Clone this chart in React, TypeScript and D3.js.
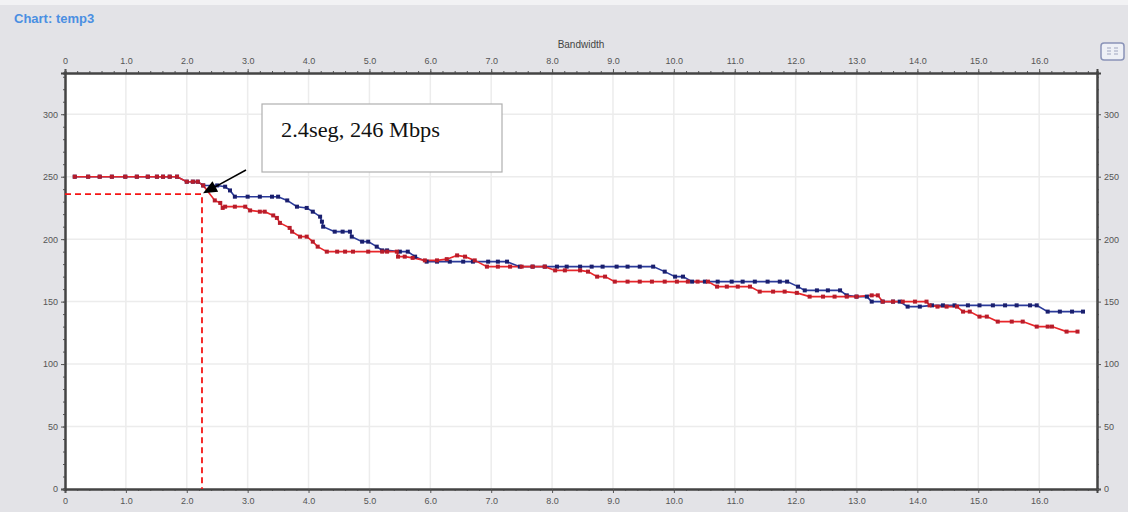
import React, { useRef, useEffect } from "react";
import * as d3 from "d3";

// Blue series (bandwidth axis value, Mbps)
const blueX = [
  0.16, 0.38, 0.57, 0.77, 0.99, 1.18, 1.36, 1.51, 1.61, 1.72, 1.84, 2.0, 2.1, 2.18, 2.27, 2.5, 2.63, 2.71,
  2.79, 3.0, 3.2, 3.4, 3.5, 3.65, 3.81, 3.97, 4.07, 4.19, 4.22, 4.24, 4.43, 4.56, 4.68, 4.71, 4.88, 4.98,
  5.12, 5.21, 5.29, 5.5, 5.63, 5.75, 5.94, 6.11, 6.32, 6.54, 6.7, 6.95, 7.11, 7.26, 7.47, 7.68, 7.88, 8.08,
  8.24, 8.46, 8.65, 8.83, 9.06, 9.24, 9.44, 9.66, 9.85, 10.02, 10.15, 10.3, 10.51, 10.72, 10.95, 11.13,
  11.33, 11.54, 11.74, 11.86, 12.04, 12.15, 12.35, 12.53, 12.73, 12.84, 13.0, 13.17, 13.25, 13.43, 13.6,
  13.71, 13.84, 14.04, 14.24, 14.42, 14.61, 14.83, 15.02, 15.24, 15.44, 15.63, 15.85, 15.96, 16.14, 16.34,
  16.54, 16.72,
];
const blueY = [
  250, 250, 250, 250, 250, 250, 250, 250, 250, 250, 250, 246, 246, 246, 243, 243, 242, 239,
  234, 234, 234, 234, 234, 231, 226, 225, 222, 218, 214, 210, 206, 206, 206, 202, 198, 198,
  194, 191, 191, 190, 190, 186, 182, 182, 182, 182, 182, 182, 182, 182, 178, 178, 178, 178,
  178, 178, 178, 178, 178, 178, 178, 178, 174, 170, 170, 166, 166, 166, 166, 166,
  166, 166, 166, 166, 162, 159, 159, 159, 159, 155, 154, 154, 150, 150, 150,
  150, 146, 146, 147, 147, 147, 147, 147, 147, 147, 147, 147, 147, 142, 142,
  142, 142,
];

// Red series
const redX = [
  0.16, 0.38, 0.57, 0.77, 0.99, 1.18, 1.36, 1.51, 1.61, 1.72, 1.84, 2.0, 2.1, 2.18, 2.27, 2.46, 2.55, 2.59,
  2.63, 2.79, 2.96, 3.04, 3.2, 3.28, 3.42, 3.48, 3.53, 3.69, 3.73, 3.86, 3.97, 4.07, 4.15, 4.3, 4.47, 4.6,
  4.73, 4.98, 5.21, 5.29, 5.45, 5.47, 5.58, 5.71, 5.91, 6.11, 6.27, 6.44, 6.57, 6.73, 6.93, 7.11, 7.31, 7.5,
  7.68, 7.88, 8.05, 8.21, 8.46, 8.59, 8.74, 8.87, 9.03, 9.24, 9.44, 9.64, 9.85, 10.05, 10.23, 10.39, 10.56,
  10.71, 10.87, 11.05, 11.25, 11.41, 11.63, 11.82, 12.02, 12.23, 12.45, 12.64, 12.84, 13.0, 13.25, 13.35,
  13.43, 13.6, 13.76, 13.96, 14.15, 14.2, 14.33, 14.48, 14.65, 14.75, 14.86, 15.02, 15.14, 15.32, 15.55,
  15.73, 15.96, 16.14, 16.21, 16.45, 16.63,
];
const redY = [
  250, 250, 250, 250, 250, 250, 250, 250, 250, 250, 250, 246, 246, 246, 243, 231, 229, 225,
  226, 226, 226, 223, 222, 222, 219, 217, 213, 209, 206, 202, 202, 198, 194, 190, 190, 190,
  190, 190, 190, 190, 190, 186, 186, 185, 183, 183, 184, 187, 186, 183, 178, 178, 178, 178,
  178, 178, 175, 175, 175, 174, 170, 170, 166, 166, 166, 166, 166, 166, 166, 166, 166,
  162, 162, 162, 162, 158, 158, 158, 157, 154, 154, 154, 154, 154, 155, 155,
  150, 150, 150, 150, 150, 147, 146, 146, 146, 142, 142, 138, 138, 134, 134,
  134, 130, 130, 130, 126, 126,
];

const xMajor = [0, 1, 2, 3, 4, 5, 6, 7, 8, 9, 10, 11, 12, 13, 14, 15, 16];
const xLabels = ["0", "1.0", "2.0", "3.0", "4.0", "5.0", "6.0", "7.0", "8.0", "9.0", "10.0", "11.0", "12.0", "13.0", "14.0", "15.0", "16.0"];
const yMajor = [0, 50, 100, 150, 200, 250, 300];

// marked point and its note
const markX = 2.25;
const markY = 236;
const noteText = "2.4seg, 246 Mbps";

export default function App() {
  const svgRef = useRef(null);

  useEffect(() => {
    const width = 1128;
    const height = 512;
    const margin = { top: 73, right: 31, bottom: 23, left: 65 };

    const svg = d3.select(svgRef.current).attr("width", width).attr("height", height);
    svg.selectAll("*").remove();

    // panel background
    svg.append("rect").attr("width", width).attr("height", height).attr("fill", "#e3e3e7");
    svg.append("rect").attr("width", width).attr("height", 5).attr("fill", "#f2f2f4");

    svg.append("text")
      .attr("x", 14).attr("y", 23)
      .attr("font-family", "Liberation Sans, Arial, sans-serif")
      .attr("font-size", 13).attr("font-weight", "bold")
      .attr("fill", "#4a8fe2")
      .text("Chart: temp3");

    const x = d3.scaleLinear().domain([0, 16.95]).range([margin.left, width - margin.right]);
    const y = d3.scaleLinear().domain([0, 333]).range([height - margin.bottom, margin.top]);

    // plot area
    svg.append("rect")
      .attr("x", x(0)).attr("y", y(333))
      .attr("width", x(16.95) - x(0)).attr("height", y(0) - y(333))
      .attr("fill", "#ffffff");

    // grid
    svg.append("g").selectAll("line").data(xMajor.slice(1)).enter().append("line")
      .attr("x1", d => x(d)).attr("x2", d => x(d))
      .attr("y1", y(0)).attr("y2", y(333))
      .attr("stroke", "#ececec").attr("stroke-width", 1.5);
    svg.append("g").selectAll("line").data(yMajor.slice(1)).enter().append("line")
      .attr("x1", x(0)).attr("x2", x(16.95))
      .attr("y1", d => y(d)).attr("y2", d => y(d))
      .attr("stroke", "#ececec").attr("stroke-width", 1.5);

    // axes
    const xMinor = d3.range(0, 85).map(i => i * 0.2).filter(v => v <= 16.95);
    const yMinor = d3.range(0, 34).map(i => i * 10);
    const fmtX = (d, i) => xLabels[i];

    const styleAxis = (g) => {
      g.select(".domain").attr("stroke", "#444").attr("stroke-width", 2);
      g.selectAll(".tick line").attr("stroke", "#555");
      g.selectAll("text").attr("fill", "#555").attr("font-size", 9)
        .attr("font-family", "Liberation Sans, Arial, sans-serif");
    };

    const addX = (axisFn, ty) => {
      svg.append("g").attr("transform", `translate(0,${ty})`)
        .call(axisFn(x).tickValues(xMinor).tickSize(2).tickFormat(() => ""))
        .call(styleAxis);
      svg.append("g").attr("transform", `translate(0,${ty})`)
        .call(axisFn(x).tickValues(xMajor).tickSize(4).tickFormat(fmtX).tickPadding(5))
        .call(styleAxis);
    };
    addX(d3.axisTop, y(333));
    addX(d3.axisBottom, y(0));

    const addY = (axisFn, tx) => {
      svg.append("g").attr("transform", `translate(${tx},0)`)
        .call(axisFn(y).tickValues(yMinor).tickSize(2).tickFormat(() => ""))
        .call(styleAxis);
      svg.append("g").attr("transform", `translate(${tx},0)`)
        .call(axisFn(y).tickValues(yMajor).tickSize(4).tickFormat(d3.format("d")).tickPadding(3))
        .call(styleAxis);
    };
    addY(d3.axisLeft, x(0));
    addY(d3.axisRight, x(16.95));

    svg.append("text")
      .attr("x", (x(0) + x(16.95)) / 2 + 0).attr("y", 48)
      .attr("text-anchor", "middle")
      .attr("font-family", "Liberation Sans, Arial, sans-serif")
      .attr("font-size", 10).attr("fill", "#444")
      .text("Bandwidth");

    // small toolbar icon
    const icon = svg.append("g").attr("transform", "translate(1101,43)");
    icon.append("rect").attr("width", 23).attr("height", 17).attr("rx", 3)
      .attr("fill", "#eef0f6").attr("stroke", "#8a93b8").attr("stroke-width", 1.5);
    icon.append("path").attr("d", "M6,5H10M6,8H10M6,11H10M13,5H17M13,8H17M13,11H17")
      .attr("stroke", "#a0a6c0").attr("stroke-width", 1);

    // series: lines first (red over blue), then markers
    const line = d3.line().x(d => x(d[0])).y(d => y(d[1]));
    const series = [
      { xs: blueX, ys: blueY, color: "#2a3a9a", dot: "#1a1f6e" },
      { xs: redX, ys: redY, color: "#e8262a", dot: "#b81c2a" },
    ];
    const pts = series.map(s => s.xs.map((v, i) => [v, s.ys[i]]));
    series.forEach((s, k) => {
      svg.append("path").datum(pts[k])
        .attr("d", line)
        .attr("fill", "none")
        .attr("stroke", s.color)
        .attr("stroke-width", 1.6);
    });
    series.forEach((s, k) => {
      svg.append("g").selectAll("rect").data(pts[k]).enter().append("rect")
        .attr("x", d => x(d[0]) - 2).attr("y", d => y(d[1]) - 2)
        .attr("width", 4).attr("height", 4)
        .attr("fill", s.dot);
    });

    // dashed guide lines to the marked point
    svg.append("path")
      .attr("d", `M${x(0)},${y(markY)}H${x(markX)}V${y(0)}`)
      .attr("fill", "none")
      .attr("stroke", "#f51515")
      .attr("stroke-width", 1.8)
      .attr("stroke-dasharray", "6,4");

    // note box and arrow
    svg.append("rect")
      .attr("x", 262).attr("y", 104).attr("width", 240).attr("height", 68)
      .attr("fill", "#ffffff").attr("stroke", "#b0b0b0").attr("stroke-width", 1.2);
    svg.append("text")
      .attr("x", 281).attr("y", 137)
      .attr("font-family", "Liberation Serif, Times New Roman, serif")
      .attr("font-size", 22).attr("fill", "#111")
      .attr("textLength", 159).attr("lengthAdjust", "spacingAndGlyphs")
      .text(noteText);

    const tipX = x(markX) + 1;
    const tipY = y(markY) - 1;
    svg.append("line")
      .attr("x1", 246).attr("y1", 170).attr("x2", tipX + 8).attr("y2", tipY - 4)
      .attr("stroke", "#000").attr("stroke-width", 1.5);
    const ang = Math.atan2(tipY - 170, tipX - 246);
    const L = 14, W = 6;
    const bx = tipX - L * Math.cos(ang), by = tipY - L * Math.sin(ang);
    svg.append("path")
      .attr("d", `M${tipX},${tipY}L${bx + W * Math.sin(ang)},${by - W * Math.cos(ang)}L${bx - W * Math.sin(ang)},${by + W * Math.cos(ang)}Z`)
      .attr("fill", "#000");
  }, []);

  return <svg ref={svgRef} style={{ position: "absolute", left: 0, top: 0 }}></svg>;
}
